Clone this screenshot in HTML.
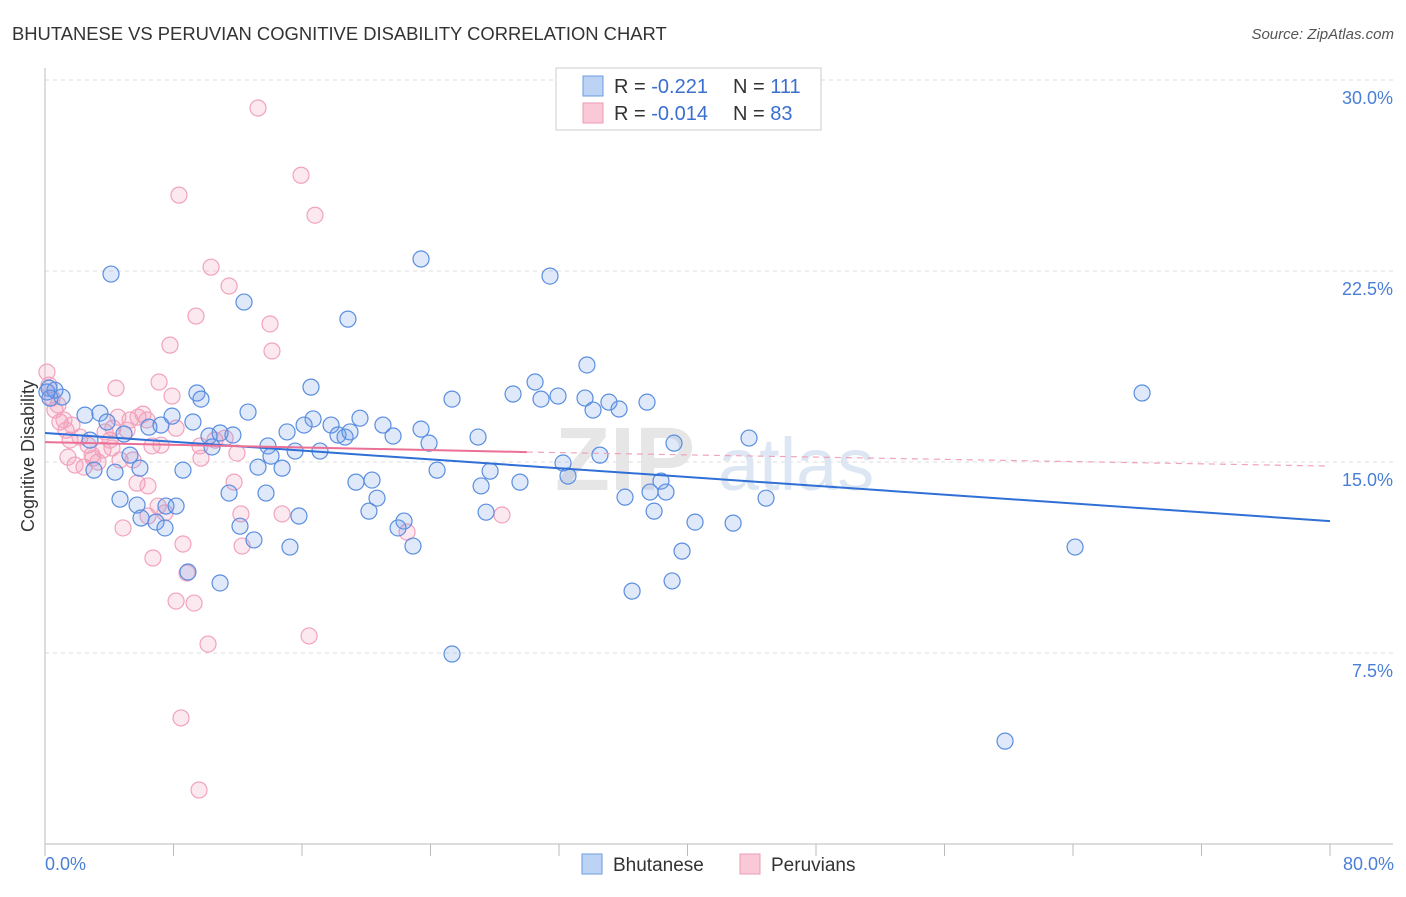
<!DOCTYPE html>
<html><head><meta charset="utf-8"><style>
body{margin:0;background:#fff;font-family:"Liberation Sans",sans-serif;}
svg text{font-family:"Liberation Sans",sans-serif;}
</style></head><body>
<svg width="1406" height="892" xmlns="http://www.w3.org/2000/svg">
<text x="12" y="40" font-size="18.4" fill="#333">BHUTANESE VS PERUVIAN COGNITIVE DISABILITY CORRELATION CHART</text>
<text x="1394" y="39" font-size="15" fill="#555" text-anchor="end" font-style="italic">Source: ZipAtlas.com</text>
<g id="grid"></g>
<g id="watermark">
<text x="555" y="490" font-size="90" fill="#e6e6e6" font-family="Liberation Serif" font-weight="bold">ZIP</text>
<text x="718" y="490" font-size="74" fill="#dde6f3">atlas</text>
</g>
<g id="points"></g>
<g id="trends"></g>
<text transform="translate(34,456) rotate(-90)" font-size="18" fill="#333" text-anchor="middle">Cognitive Disability</text>
<text x="45" y="870" font-size="18" fill="#4a7fd6">0.0%</text>
<text x="1394" y="870" font-size="18" fill="#4a7fd6" text-anchor="end">80.0%</text>
<g>
<rect x="556" y="68" width="265" height="62" fill="#fff" stroke="#ccc"/>
<rect x="583" y="76" width="20" height="20" fill="#bcd3f5" stroke="#6d9be0"/>
<rect x="583" y="103" width="20" height="20" fill="#f9c9d7" stroke="#ef9ab4"/>
<text x="614" y="93" font-size="20" fill="#333">R = <tspan fill="#3a6fd0">-0.221</tspan><tspan x="733">N = </tspan><tspan fill="#3a6fd0">111</tspan></text>
<text x="614" y="120" font-size="20" fill="#333">R = <tspan fill="#3a6fd0">-0.014</tspan><tspan x="733">N = </tspan><tspan fill="#3a6fd0">83</tspan></text>
</g>
<g>
<rect x="582" y="854" width="20" height="20" fill="#bcd3f5" stroke="#6d9be0"/>
<text x="613" y="871" font-size="19" fill="#333">Bhutanese</text>
<rect x="740" y="854" width="20" height="20" fill="#f9c9d7" stroke="#ef9ab4"/>
<text x="771" y="871" font-size="19" fill="#333">Peruvians</text>
</g>
</svg>
<script>
const yTicks=[7.5,15,22.5,30];
const yTickLabels=["7.5%","15.0%","22.5%","30.0%"];
const xTicks=[0,8,16,24,32,40,48,56,64,72,80];
const blueX=[4.11,12.39,23.41,31.44,18.86,33.74,30.51,29.14,30.88,31.94,33.62,35.11,34.12,35.74,37.48,25.34,16.56,9.46,9.71,12.64,7.91,9.21,16.69,17.81,18.24,19.61,21.04,21.67,23.41,23.91,26.96,18.68,18.99,16.13,15.07,13.88,15.57,17.12,11.70,10.90,10.40,10.21,1.06,0.62,0.31,2.49,3.42,3.86,4.92,2.80,3.05,4.36,5.91,8.59,13.26,14.76,14.07,6.47,7.22,5.29,4.67,5.73,7.53,11.46,13.76,15.81,8.16,5.98,6.91,7.47,12.14,13.01,15.25,8.90,10.90,19.36,20.36,20.67,20.17,22.35,21.98,22.91,24.41,27.15,27.71,29.57,27.46,32.25,32.56,34.55,36.11,37.67,37.92,38.35,38.66,39.16,40.47,39.66,42.84,43.83,44.89,36.55,39.04,68.30,64.13,59.77,25.34,0.25,0.12];
const blueY=[22.38,21.28,22.97,22.30,20.61,18.81,18.14,17.67,17.47,17.59,17.51,17.35,17.04,17.08,17.35,17.47,17.94,17.71,17.47,16.96,16.80,16.57,16.69,16.45,16.06,16.72,16.45,16.02,16.29,15.74,15.98,15.98,16.18,16.45,16.18,15.63,15.43,15.43,16.06,16.14,15.59,16.02,17.55,17.82,17.51,16.84,16.92,16.57,16.10,15.86,14.68,14.60,14.76,14.68,14.80,14.76,15.23,16.37,16.45,15.27,13.54,13.31,13.27,13.78,13.78,12.88,13.27,12.80,12.64,12.41,12.48,11.94,11.66,10.68,10.25,14.21,14.29,13.58,13.07,12.68,12.41,11.70,14.68,14.06,14.64,14.21,13.03,14.96,14.45,15.27,13.62,13.82,13.07,14.25,13.82,15.74,12.64,11.50,12.60,15.94,13.58,9.93,10.33,17.71,11.66,4.04,7.46,17.90,17.75];
const pinkX=[13.26,15.94,16.81,8.34,10.34,11.46,9.40,14.01,14.13,7.78,4.42,7.10,7.91,0.12,0.25,0.44,0.62,0.93,1.31,1.56,1.68,2.18,2.68,2.93,3.30,1.87,2.43,1.43,3.61,4.05,4.23,4.54,5.29,5.79,6.10,6.35,5.11,4.17,4.67,5.48,5.73,6.41,6.66,7.22,8.16,9.65,10.58,11.21,11.95,9.71,11.77,7.04,6.41,4.86,7.47,12.20,14.76,12.27,8.59,6.72,8.84,8.16,9.28,10.15,16.44,8.47,9.59,22.54,28.45,2.99,3.74,0.81,1.18];
const pinkY=[28.90,26.26,24.69,25.48,22.65,21.91,20.73,20.42,19.36,19.59,17.90,18.14,17.59,18.53,18.02,17.51,17.04,16.57,16.25,15.86,16.45,15.98,15.66,15.27,15.00,14.88,14.80,15.19,15.47,15.86,16.33,16.76,16.65,16.76,16.88,16.65,16.25,15.55,15.08,15.08,14.17,14.06,15.63,15.66,16.33,15.63,15.86,15.94,15.35,15.15,14.21,13.27,12.88,12.41,13.00,12.96,12.96,11.70,11.78,11.23,10.64,9.54,9.46,7.85,8.17,4.95,2.12,12.25,12.92,15.15,16.18,17.24,16.65];
const blueTrend=[[0,16.14],[80,12.68]];
const pinkTrendSolid=[[0,15.78],[30,15.39]];
const pinkTrendDash=[[30,15.39],[80,14.84]];
const NS="http://www.w3.org/2000/svg";
const X=v=>45+v*(1285/80);
const Y=v=>844-v*(191/7.5);
function mk(t,a,p){const e=document.createElementNS(NS,t);for(const k in a)e.setAttribute(k,a[k]);p.appendChild(e);return e;}
const grid=document.getElementById('grid');
mk('line',{x1:45,y1:80,x2:1393,y2:80,stroke:'#ddd','stroke-dasharray':'4,4'},grid);
yTicks.forEach((t,i)=>{
 const l=mk('line',{x1:45,y1:Y(t),x2:1393,y2:Y(t),stroke:'#ddd','stroke-dasharray':'4,4'},grid);
 
 
 const tx=mk('text',{x:1393,y:Y(t)+24,'font-size':18,fill:'#4a7fd6','text-anchor':'end'},grid);
 tx.textContent=yTickLabels[i];
 
 
});
mk('line',{x1:45,y1:68,x2:45,y2:844,stroke:'#bbb'},grid);
mk('line',{x1:45,y1:844,x2:1393,y2:844,stroke:'#bbb'},grid);
xTicks.forEach(t=>{
 const l=mk('line',{x1:X(t),y1:844,x2:X(t),y2:856,stroke:'#bbb'},grid);
 
 
});
const pts=document.getElementById('points');
function plot(xs,ys,fill,stroke,name){
 xs.forEach((x,i)=>{
  const c=mk('circle',{cx:X(x),cy:Y(ys[i]),r:8,fill:fill,stroke:stroke,'stroke-width':1.2},pts);
  
  
 });
}
plot(pinkX,pinkY,'rgba(243,150,180,0.22)','#f2a3bc','peruvian-point');
plot(blueX,blueY,'rgba(110,155,230,0.22)','#5a8ee0','bhutanese-point');
const tr=document.getElementById('trends');
function line(d,stroke,w,dash,name){
 const l=mk('line',{x1:X(d[0][0]),y1:Y(d[0][1]),x2:X(d[1][0]),y2:Y(d[1][1]),stroke:stroke,'stroke-width':w},tr);
 if(dash)l.setAttribute('stroke-dasharray',dash);
 
 
}
line(blueTrend,'#2f6fd6',2,null,'bhutanese-trend');
line(pinkTrendSolid,'#ec6f96',2,null,'peruvian-trend');
line(pinkTrendDash,'#f0a3bb',1.2,'6,5','peruvian-trend-extension');
</script>
</body></html>
